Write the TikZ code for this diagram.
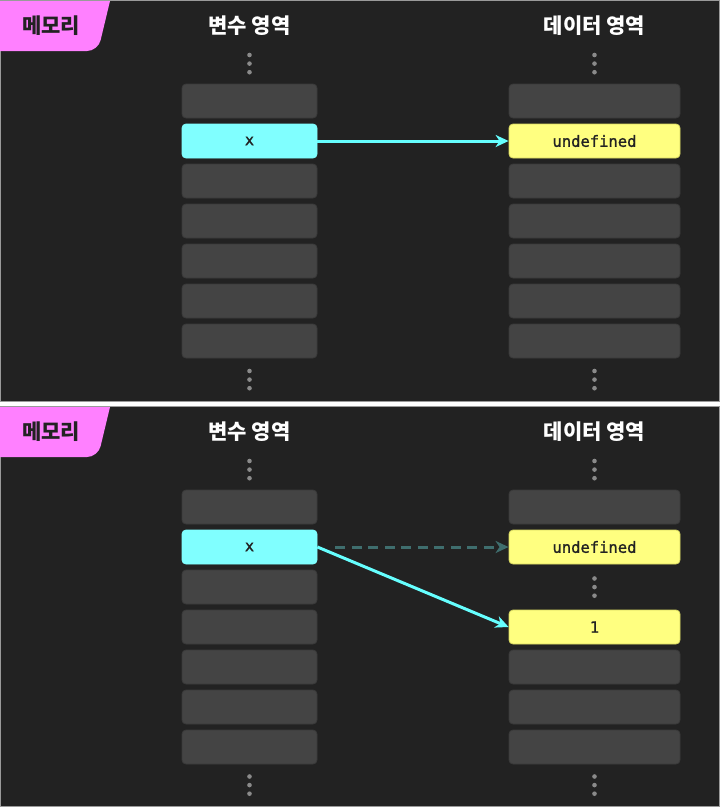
\documentclass[tikz,border=0pt]{standalone}
\usepackage{fontspec}
\newfontfamily\kr{Noto Sans CJK KR}
\newfontfamily\mono{DejaVu Sans Mono}[FakeBold=1.2]
\usetikzlibrary{arrows.meta}
\definecolor{bgc}{HTML}{222222}
\definecolor{edgec}{HTML}{9A9A9A}
\definecolor{cellc}{HTML}{444444}
\definecolor{cellb}{HTML}{3A3A3A}
\definecolor{cyanc}{HTML}{80FFFF}
\definecolor{yellc}{HTML}{FFFF80}
\definecolor{yellb}{HTML}{D8D860}
\definecolor{pinkc}{HTML}{FF80FF}
\definecolor{dotc}{HTML}{8A8A8A}
\definecolor{arrc}{HTML}{66FFFF}
\definecolor{oldc}{HTML}{3F6E6E}
\definecolor{darktext}{HTML}{222222}
\tikzset{
  panel/.style={fill=bgc, draw=edgec, line width=1pt},
  lcell/.style={rectangle, rounded corners=4pt, fill=cellc, draw=cellb, line width=0.8pt, minimum width=135pt, minimum height=34pt, inner sep=0pt},
  rcell/.style={lcell, minimum width=171pt},
  varcell/.style={lcell, fill=cyanc, draw=cyanc, text=darktext, font=\mono\fontsize{15.5}{18}\selectfont},
  datcell/.style={rcell, fill=yellc, draw=yellb, text=darktext, font=\mono\fontsize{15.5}{18}\selectfont},
  header/.style={text=white, font=\kr\bfseries\fontsize{21}{25}\selectfont, inner sep=0pt},
  tagtext/.style={text=darktext, font=\kr\bfseries\fontsize{21}{25}\selectfont, inner sep=0pt},
  ptr/.style={draw=arrc, line width=3pt, -{Stealth[length=13pt,width=12pt,inset=4pt]}},
  oldptr/.style={draw=oldc, line width=3pt, dash pattern=on 10pt off 6.5pt, -{Stealth[length=13pt,width=12pt,inset=4pt]}},
  vdot/.style={fill=dotc}
}
\newcommand{\vdotsat}[2]{%
  \fill[vdot] (#1,#2) circle (2.3pt);
  \fill[vdot] (#1,#2+8.6) circle (2.3pt);
  \fill[vdot] (#1,#2+17.2) circle (2.3pt);
}
\begin{document}
\begin{tikzpicture}[x=1pt,y=-1pt]
\useasboundingbox (0,0) rectangle (720,807);
\fill[white] (0,0) rectangle (720,807);
% ---------- top panel ----------
\draw[panel] (0.5,0.5) rectangle (719.5,401);
\fill[pinkc] (0,1) -- (110,1) [rounded corners=11pt] -- (98,51) [sharp corners] -- (0,51) -- cycle;
\node[tagtext] (tag1) at (51,26) {메모리};
\node[header] (h1l) at (249.5,26) {변수 영역};
\node[header] (h1r) at (594.5,26) {데이터 영역};
\vdotsat{249.5}{55}
\vdotsat{594.5}{55}
\node[lcell] (a1) at (249.5,101) {};
\node[varcell] (a2) at (249.5,141) {x};
\node[lcell] (a3) at (249.5,181) {};
\node[lcell] (a4) at (249.5,221) {};
\node[lcell] (a5) at (249.5,261) {};
\node[lcell] (a6) at (249.5,301) {};
\node[lcell] (a7) at (249.5,341) {};
\node[rcell] (b1) at (594.5,101) {};
\node[datcell] (b2) at (594.5,141) {undefined};
\node[rcell] (b3) at (594.5,181) {};
\node[rcell] (b4) at (594.5,221) {};
\node[rcell] (b5) at (594.5,261) {};
\node[rcell] (b6) at (594.5,301) {};
\node[rcell] (b7) at (594.5,341) {};
\vdotsat{249.5}{371}
\vdotsat{594.5}{371}
\draw[ptr] (a2.east) -- (b2.west);
% ---------- bottom panel ----------
\draw[panel] (0.5,406.5) rectangle (719.5,806.5);
\fill[pinkc] (0,407) -- (110,407) [rounded corners=11pt] -- (98,457) [sharp corners] -- (0,457) -- cycle;
\node[tagtext] (tag2) at (51,432) {메모리};
\node[header] (h2l) at (249.5,432) {변수 영역};
\node[header] (h2r) at (594.5,432) {데이터 영역};
\vdotsat{249.5}{461}
\vdotsat{594.5}{461}
\node[lcell] (c1) at (249.5,507) {};
\node[varcell] (c2) at (249.5,547) {x};
\node[lcell] (c3) at (249.5,587) {};
\node[lcell] (c4) at (249.5,627) {};
\node[lcell] (c5) at (249.5,667) {};
\node[lcell] (c6) at (249.5,707) {};
\node[lcell] (c7) at (249.5,747) {};
\node[rcell] (d1) at (594.5,507) {};
\node[datcell] (d2) at (594.5,547) {undefined};
\vdotsat{594.5}{578.5}
\node[datcell] (d3) at (594.5,627) {1};
\node[rcell] (d4) at (594.5,667) {};
\node[rcell] (d5) at (594.5,707) {};
\node[rcell] (d6) at (594.5,747) {};
\vdotsat{249.5}{776.5}
\vdotsat{594.5}{776.5}
\draw[oldptr] ([xshift=18pt]c2.east) -- (d2.west);
\draw[ptr] (c2.east) -- (d3.west);
\end{tikzpicture}
\end{document}
